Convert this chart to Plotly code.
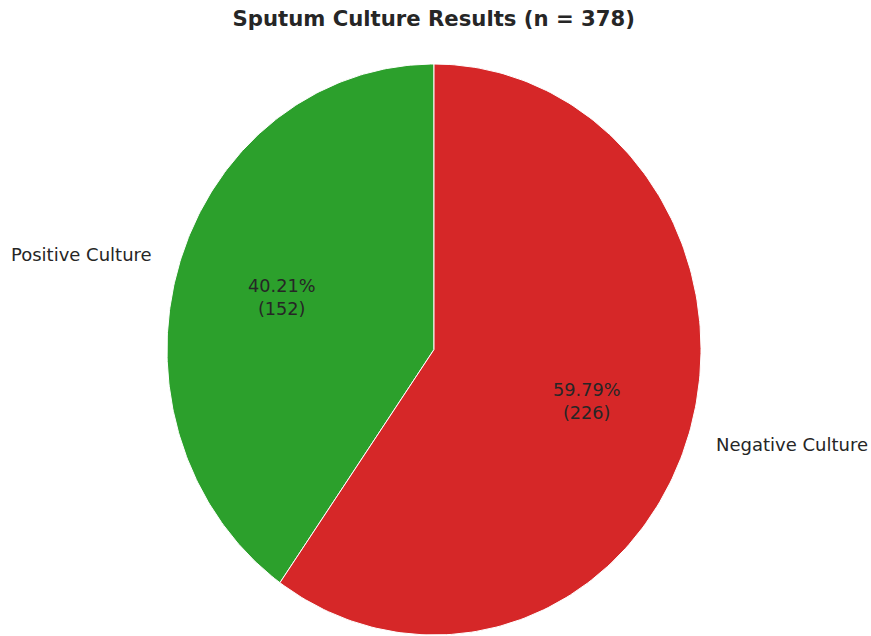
import numpy as np
import plotly.graph_objects as go

# Sputum culture outcomes
categories = ["Positive Culture", "Negative Culture"]
counts = [152, 226]
colors = ["#2ca02c", "#d62728"]

total = sum(counts)
start_angle = 90.0  # first wedge starts at 12 o'clock, drawn counter-clockwise
label_dist = 1.1
pct_dist = 0.6

fig = go.Figure()

angle = start_angle
for cat, n, col in zip(categories, counts, colors):
    sweep = 360.0 * n / total
    theta = np.radians(np.linspace(angle, angle + sweep, 200))
    xs = np.concatenate([[0], np.cos(theta), [0]])
    ys = np.concatenate([[0], np.sin(theta), [0]])
    fig.add_trace(go.Scatter(
        x=xs, y=ys, mode="lines", fill="toself",
        fillcolor=col, line=dict(color="white", width=1),
        name=cat, hoverinfo="name", showlegend=False,
    ))
    mid = np.radians(angle + sweep / 2)
    cx, cy = np.cos(mid), np.sin(mid)
    # category label outside the wedge
    fig.add_annotation(
        x=label_dist * cx, y=label_dist * cy, text=cat, showarrow=False,
        xanchor="left" if cx > 0 else "right", yanchor="middle",
        font=dict(family="DejaVu Sans", size=18, color="#262626"),
    )
    # percentage and count inside the wedge
    fig.add_annotation(
        x=pct_dist * cx, y=pct_dist * cy,
        text=f"{100 * n / total:.2f}%<br>({n})", showarrow=False,
        xanchor="center", yanchor="middle",
        font=dict(family="DejaVu Sans", size=17.7, color="#262626"),
    )
    angle += sweep

fig.update_layout(
    width=871, height=636,
    margin=dict(l=0, r=0, t=0, b=0),
    paper_bgcolor="white", plot_bgcolor="white",
    title=dict(
        text="<b>Sputum Culture Results (n = 378)</b>",
        x=0.498, xanchor="center", y=1 - 19 / 636, yanchor="middle",
        yref="container",
        font=dict(family="DejaVu Sans", size=21.2, color="#262626"),
    ),
    xaxis=dict(range=[-434 / 267, (871 - 434) / 267], visible=False, fixedrange=True),
    yaxis=dict(range=[-(636 - 349.5) / 285.5, 349.5 / 285.5], visible=False, fixedrange=True),
    showlegend=False,
)

fig.write_html("out.html")
